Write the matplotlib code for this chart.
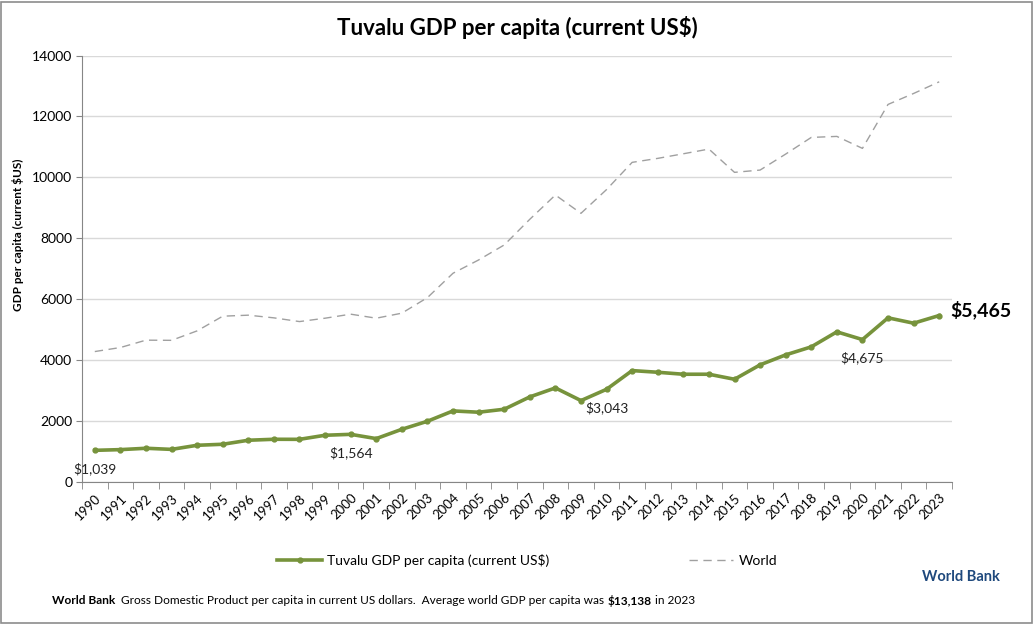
import numpy as np
import matplotlib.pyplot as plt
from matplotlib.patches import Rectangle

years = list(range(1990, 2024))
tuvalu = [1039, 1062, 1107, 1070, 1205, 1238, 1370, 1402, 1400, 1534,
          1564, 1424, 1730, 1994, 2333, 2290, 2388, 2793, 3088, 2672,
          3043, 3657, 3602, 3537, 3537, 3372, 3845, 4173, 4436, 4929,
          4675, 5389, 5213, 5465]
world = [4282, 4414, 4656, 4650, 4961, 5443, 5476, 5388, 5266, 5377,
         5509, 5377, 5542, 6053, 6853, 7289, 7781, 8624, 9421, 8820,
         9600, 10493, 10624, 10775, 10929, 10165, 10240, 10765, 11312, 11345,
         10952, 12395, 12755, 13138]
labelled = {1990: "$1,039", 2000: "$1,564", 2010: "$3,043", 2020: "$4,675"}

GREEN = "#77933C"
GREY = "#A0A0A0"
AXIS = "#868686"
FONT = ["Lato", "DejaVu Sans"]
plt.rcParams["font.family"] = FONT

fig = plt.figure(figsize=(10.34, 6.24), dpi=100)
fig.patches.append(Rectangle((0.001, 0.002), 0.997, 0.995, transform=fig.transFigure,
                             fill=False, edgecolor="#8c8c8c", linewidth=1.2))
ax = fig.add_axes([0.0793, 0.2276, 0.8414, 0.6834])

x = np.arange(len(years))
ax.plot(x, tuvalu, color=GREEN, lw=2.6, marker="o", ms=3.5,
        label="Tuvalu GDP per capita (current US$)", zorder=3)
ax.plot(x, world, color=GREY, lw=1.0, dashes=(6, 4), label="World", zorder=2)

for yr, txt in labelled.items():
    i = years.index(yr)
    ax.annotate(txt, (i, tuvalu[i]), xytext=(0, -13), textcoords="offset points",
                ha="center", va="center", fontsize=10, color="#222222")
ax.annotate("$5,465", (x[-1], tuvalu[-1]), xytext=(8, 4), textcoords="offset points",
            ha="left", va="center", fontsize=14, fontweight="bold", color="black")

ax.set_xlim(-0.5, len(years) - 0.5)
ax.set_ylim(0, 14000)
ax.set_yticks(range(0, 14001, 2000))
ax.set_xticks(x)
ax.set_xticklabels([str(y) for y in years], rotation=45, ha="right",
                   rotation_mode="anchor", fontsize=9.5)
ax.set_xticks(np.arange(-0.5, len(years), 1), minor=True)
ax.tick_params(axis="x", which="major", length=0, pad=7)
ax.tick_params(axis="x", which="minor", length=5, color=AXIS, direction="out")
ax.tick_params(axis="y", length=4, color=AXIS, labelsize=10, pad=3)
ax.grid(axis="y", color="#D9D9D9", lw=1)
ax.set_axisbelow(True)
for s in ("top", "right"):
    ax.spines[s].set_visible(False)
for s in ("left", "bottom"):
    ax.spines[s].set_color(AXIS)

fig.text(18 / 1034, 1 - 235 / 624, "GDP per capita (current $US)", rotation=90,
         fontsize=8.5, fontweight="bold", ha="center", va="center")

fig.suptitle("Tuvalu GDP per capita (current US$)", y=0.975, fontsize=16, fontweight="bold")

fig.legend(loc="center", bbox_to_anchor=(0.51, 0.102), ncol=2, frameon=False,
           fontsize=10, columnspacing=10, handlelength=3.2, handletextpad=0.4)

fig.text(922 / 1034, 1 - 577 / 624, "World Bank", color="#1F497D", fontsize=10.5,
         fontweight="bold", ha="left", va="center")

# footer with mixed bold / regular pieces
parts = [("World Bank", "bold"),
         ("  Gross Domestic Product per capita in current US dollars.  Average world GDP per capita was ", "normal"),
         ("$13,138", "bold"),
         (" in 2023", "normal")]
fig.canvas.draw()
renderer = fig.canvas.get_renderer()
xpos = 52
for txt, wt in parts:
    t = fig.text(xpos / 1034, 1 - 601 / 624, txt, fontsize=8.6, fontweight=wt,
                 ha="left", va="center")
    xpos += t.get_window_extent(renderer).width

fig.savefig("out.png", dpi=100)
